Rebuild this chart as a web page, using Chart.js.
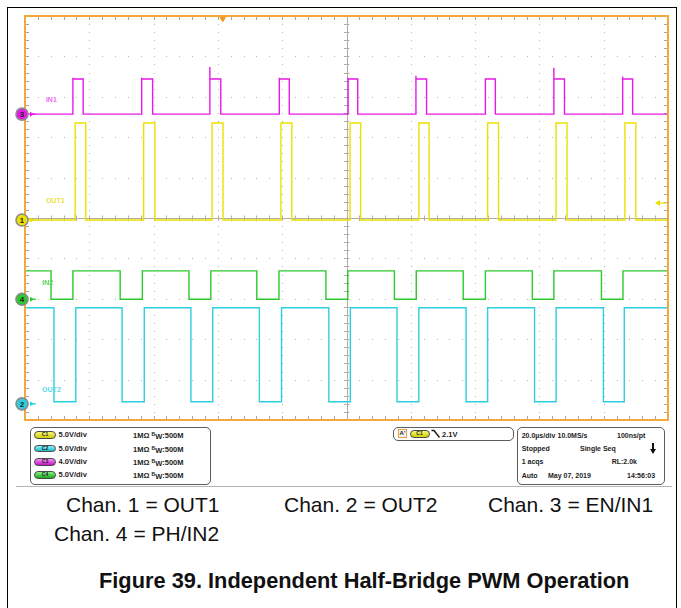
<!DOCTYPE html>
<html>
<head>
<meta charset="utf-8">
<script src="https://cdn.jsdelivr.net/npm/chart.js@4.4.1/dist/chart.umd.min.js"></script>
<style>
  html, body { margin: 0; padding: 0; background: #fff; }
  body { width: 681px; height: 608px; position: relative; overflow: hidden; font-family: "Liberation Sans", Arial, sans-serif; }
  #frame { position: absolute; left: 7px; top: 7px; width: 668px; height: 620px; border: 1px solid #000; border-bottom: none; }
  #scope { position: absolute; left: 0; top: 0; }
  .box { position: absolute; border: 1px solid #5c5c5c; border-radius: 5px; box-sizing: border-box; background: #fff; }
  .t { position: absolute; font-size: 7.5px; line-height: 7.5px; font-weight: bold; color: #1d1d1d; white-space: nowrap; }
  .s { font-size: 7px; }
  .pill { position: absolute; width: 22px; height: 7.5px; border: 1px solid #4a4a4a; border-radius: 4px; box-sizing: border-box;
          font-size: 5px; line-height: 5.5px; font-weight: bold; text-align: center; color: #202020; }
  .c1 { background: linear-gradient(#f6f67a, #cfcf00); }
  .c2 { background: linear-gradient(#8ef0f8, #1cb8c8); }
  .c3 { background: linear-gradient(#f690f6, #c414c4); }
  .c4 { background: linear-gradient(#8cf08c, #1aa81a); }
  .cap { position: absolute; font-size: 21px; line-height: 21px; color: #111; white-space: nowrap; }
  .title { font-weight: bold; font-size: 21.8px; line-height: 21.8px; }
  #sep { position: absolute; left: 16px; top: 486px; width: 656px; height: 1px; background: #b4b4b4; }
</style>
</head>
<body>
<div id="frame"></div>
<canvas id="scope" width="681" height="424"></canvas>

<!-- vertical settings -->
<div class="box" style="left:30px; top:427px; width:181px; height:58px;"></div>
<div class="pill c1" style="left:34px; top:431.3px;">C1</div>
<div class="pill c2" style="left:34px; top:444.6px;">C2</div>
<div class="pill c3" style="left:34px; top:458px;">C3</div>
<div class="pill c4" style="left:34px; top:471.3px;">C4</div>
<div class="t" style="left:58.5px; top:431.3px;">5.0V/div</div>
<div class="t" style="left:58.5px; top:444.6px;">5.0V/div</div>
<div class="t" style="left:58.5px; top:458px;">4.0V/div</div>
<div class="t" style="left:58.5px; top:471.3px;">5.0V/div</div>
<div class="t" style="left:133px; top:431.3px;">1MΩ <span style="font-size:5px; vertical-align:2px;">B</span><span style="vertical-align:-1px;">W</span>:500M</div>
<div class="t" style="left:133px; top:444.6px;">1MΩ <span style="font-size:5px; vertical-align:2px;">B</span><span style="vertical-align:-1px;">W</span>:500M</div>
<div class="t" style="left:133px; top:458px;">1MΩ <span style="font-size:5px; vertical-align:2px;">B</span><span style="vertical-align:-1px;">W</span>:500M</div>
<div class="t" style="left:133px; top:471.3px;">1MΩ <span style="font-size:5px; vertical-align:2px;">B</span><span style="vertical-align:-1px;">W</span>:500M</div>

<!-- trigger -->
<div class="box" style="left:393px; top:427px; width:121px; height:14px;"></div>
<div class="t" style="left:398px; top:429px; width:9px; height:9px; box-sizing:border-box; border:1px solid #e9a23c; font-size:6px; line-height:7px; text-align:center; background:#f4f4f4;">A'</div>
<div class="pill c1" style="left:409.5px; top:430.3px; width:20px;">C1</div>
<svg style="position:absolute; left:431px; top:429px;" width="10" height="10"><polyline points="0.5,1.5 3,1.5 8.5,8.5" fill="none" stroke="#111" stroke-width="1.3"/></svg>
<div class="t" style="left:442px; top:431.3px;">2.1V</div>

<!-- horizontal / acquisition -->
<div class="box" style="left:517px; top:427px; width:148px; height:58px;"></div>
<div class="t s" style="left:521.7px; top:431.6px;">20.0µs/div</div>
<div class="t s" style="left:557.5px; top:431.6px;">10.0MS/s</div>
<div class="t s" style="left:617px; top:431.6px;">100ns/pt</div>
<div class="t s" style="left:521.7px; top:444.9px;">Stopped</div>
<div class="t s" style="left:580px; top:444.9px;">Single Seq</div>
<svg style="position:absolute; left:649.5px; top:442.5px;" width="6" height="11"><path d="M2 0 H4 V6 H6 L3 11 L0 6 H2 Z" fill="#111"/></svg>
<div class="t s" style="left:521.7px; top:458.3px;">1 acqs</div>
<div class="t s" style="left:611.7px; top:458.3px;">RL:2.0k</div>
<div class="t s" style="left:521.7px; top:471.6px;">Auto</div>
<div class="t s" style="left:548px; top:471.6px;">May 07, 2019</div>
<div class="t s" style="left:627px; top:471.6px;">14:56:03</div>

<div id="sep"></div>

<div class="cap" style="left:66px; top:494px;">Chan. 1 = OUT1</div>
<div class="cap" style="left:284px; top:494px;">Chan. 2 = OUT2</div>
<div class="cap" style="left:488px; top:494px;">Chan. 3 = EN/IN1</div>
<div class="cap" style="left:54px; top:523px;">Chan. 4 = PH/IN2</div>
<div class="cap title" style="left:99px; top:570px;">Figure 39. Independent Half-Bridge PWM Operation</div>

<script>
// Time base: 20 µs/div over 10 divisions; vertical in screen divisions (0 = bottom).
const T_MIN = 0, T_MAX = 200;
const DIV_MIN = 0, DIV_MAX = 10;

// EN/IN1 (ch3): short high pulses, [low, high] levels, leading-edge peak per pulse
const in1Rise = [14.9, 36.3, 57.5, 79.1, 100.5, 121.6, 143.2, 164.5, 185.9];
const in1Fall = [18.1, 39.7, 60.9, 82.2, 103.5, 124.9, 146.3, 167.8, 189.0];
const in1Level = [7.57, 8.44];
const in1Peak = [8.47, 8.47, 8.74, 8.47, 8.47, 8.52, 8.44, 8.72, 8.50];

// OUT1 (ch1)
const out1Rise = [15.6, 36.9, 58.2, 79.6, 101.1, 122.5, 143.9, 165.2, 186.6];
const out1Fall = [18.9, 40.4, 61.6, 83.0, 104.4, 125.7, 147.3, 168.6, 190.0];
const out1Level = [4.95, 7.35];

// PH/IN2 (ch4): low pulses
const in2Fall = [8.1, 29.6, 51.0, 72.1, 93.6, 114.9, 136.3, 157.8, 179.3];
const in2Rise = [14.9, 36.5, 57.8, 79.0, 100.4, 121.7, 143.2, 164.5, 186.0];
const in2Level = [2.99, 3.69];

// OUT2 (ch2): low pulses
const out2Fall = [9.0, 30.2, 51.6, 72.9, 94.5, 115.7, 137.2, 158.5, 179.9];
const out2Rise = [15.8, 37.1, 58.4, 79.8, 101.2, 122.5, 143.9, 165.2, 186.4];
const out2Level = [0.45, 2.78];

// Channel ground markers on the left edge and trigger settings
const chanNumbers = ['3', '1', '4', '2'];
const chanGround = [7.57, 4.95, 2.99, 0.40];
const traceNames = ['IN1', 'OUT1', 'IN2', 'OUT2'];
const triggerTime = 61.5;
const triggerLevel = 5.37;

const colors = ['#e619e6', '#ebe100', '#2cc82c', '#2ccfe0'];
const labelColors = ['#ee66ee', '#e6dc40', '#55d055', '#55d8e8'];
const labelAt = [[6.5, 7.92], [6.5, 5.42], [5.4, 3.40], [5.4, 0.75]];

function highPulses(rise, fall, level, peak) {
  const [lo, hi] = level;
  const pts = [{ x: T_MIN, y: lo }];
  rise.forEach((r, i) => {
    pts.push({ x: r, y: lo }, { x: r, y: peak ? peak[i] : hi }, { x: r, y: hi },
             { x: fall[i], y: hi }, { x: fall[i], y: lo });
  });
  pts.push({ x: T_MAX, y: lo });
  return pts;
}

function lowPulses(fall, rise, level) {
  const [lo, hi] = level;
  const pts = [{ x: T_MIN, y: hi }];
  fall.forEach((f, i) => {
    pts.push({ x: f, y: hi }, { x: f, y: lo }, { x: rise[i], y: lo }, { x: rise[i], y: hi });
  });
  pts.push({ x: T_MAX, y: hi });
  return pts;
}

const graticule = {
  id: 'graticule',
  beforeDatasetsDraw(chart) {
    const { ctx, chartArea: a } = chart;
    const dx = (a.right - a.left) / 10, dy = (a.bottom - a.top) / 10;
    const cx = a.left + 5 * dx, cy = a.top + 5 * dy;
    ctx.save();

    // dotted division lines
    ctx.fillStyle = '#b2b2b2';
    for (let i = 1; i < 10; i++) {
      if (i === 5) continue;
      const x = Math.round(a.left + i * dx);
      for (let k = 1; k < 50; k++) ctx.fillRect(x, Math.round(a.top + k * dy / 5), 1, 1);
      const y = Math.round(a.top + i * dy);
      for (let k = 1; k < 50; k++) ctx.fillRect(Math.round(a.left + k * dx / 5), y, 1, 1);
    }

    // centre crosshair with minor ticks
    ctx.strokeStyle = '#b3aca0';
    ctx.lineWidth = 1;
    ctx.beginPath();
    ctx.moveTo(Math.round(cx) + 0.5, a.top); ctx.lineTo(Math.round(cx) + 0.5, a.bottom);
    ctx.moveTo(a.left, Math.round(cy) + 0.5); ctx.lineTo(a.right, Math.round(cy) + 0.5);
    for (let k = 1; k < 50; k++) {
      const y = Math.round(a.top + k * dy / 5) + 0.5;
      ctx.moveTo(cx - 2.5, y); ctx.lineTo(cx + 3, y);
      const x = Math.round(a.left + k * dx / 5) + 0.5;
      ctx.moveTo(x, cy - 2.5); ctx.lineTo(x, cy + 3);
    }
    ctx.stroke();

    // edge ticks
    ctx.strokeStyle = '#a6a6a6';
    ctx.beginPath();
    for (let k = 1; k < 50; k++) {
      const x = Math.round(a.left + k * dx / 5) + 0.5;
      ctx.moveTo(x, a.top); ctx.lineTo(x, a.top + 4);
      ctx.moveTo(x, a.bottom); ctx.lineTo(x, a.bottom - 4);
      const y = Math.round(a.top + k * dy / 5) + 0.5;
      ctx.moveTo(a.left, y); ctx.lineTo(a.left + 4, y);
      ctx.moveTo(a.right, y); ctx.lineTo(a.right - 4, y);
    }
    ctx.stroke();
    ctx.restore();
  },
  afterDatasetsDraw(chart) {
    const { ctx, chartArea: a, scales: { x: xs, y: ys } } = chart;
    ctx.save();

    // trace name labels
    ctx.font = 'bold 7px "Liberation Sans", Arial, sans-serif';
    ctx.textBaseline = 'middle';
    traceNames.forEach((name, i) => {
      ctx.fillStyle = labelColors[i];
      ctx.fillText(name, xs.getPixelForValue(labelAt[i][0]), ys.getPixelForValue(labelAt[i][1]));
    });

    // graticule frame
    ctx.strokeStyle = '#f2a83c';
    ctx.lineWidth = 2;
    ctx.strokeRect(a.left, a.top, a.right - a.left, a.bottom - a.top);

    // trigger position marker
    const tx = xs.getPixelForValue(triggerTime);
    ctx.fillStyle = '#f09a1c';
    ctx.beginPath();
    ctx.moveTo(tx - 3.5, a.top + 1); ctx.lineTo(tx + 3.5, a.top + 1); ctx.lineTo(tx, a.top + 6.5);
    ctx.closePath(); ctx.fill();

    // trigger level arrow (ch1)
    const ty = ys.getPixelForValue(triggerLevel);
    ctx.fillStyle = colors[1];
    ctx.strokeStyle = colors[1];
    ctx.lineWidth = 1.2;
    ctx.beginPath();
    ctx.moveTo(a.right - 13, ty); ctx.lineTo(a.right - 8, ty - 3); ctx.lineTo(a.right - 8, ty + 3);
    ctx.closePath(); ctx.fill();
    ctx.beginPath(); ctx.moveTo(a.right - 8, ty); ctx.lineTo(a.right - 2, ty); ctx.stroke();

    // channel ground markers
    const chanColor = { '1': colors[1], '2': colors[3], '3': colors[0], '4': colors[2] };
    chanNumbers.forEach((n, i) => {
      const y = ys.getPixelForValue(chanGround[i]);
      const c = chanColor[n];
      ctx.fillStyle = c;
      ctx.strokeStyle = c;
      ctx.lineWidth = 1.2;
      ctx.beginPath();
      ctx.moveTo(30, y); ctx.lineTo(36, y); ctx.stroke();
      ctx.beginPath();
      ctx.moveTo(30, y - 2.5); ctx.lineTo(34, y); ctx.lineTo(30, y + 2.5); ctx.closePath(); ctx.fill();

      ctx.beginPath();
      ctx.arc(22, y, 6, 0, Math.PI * 2);
      ctx.fill();
      ctx.strokeStyle = '#8c8c8c';
      ctx.lineWidth = 1.6;
      ctx.stroke();
      ctx.fillStyle = '#1a1a1a';
      ctx.font = 'bold 8px "Liberation Sans", Arial, sans-serif';
      ctx.textAlign = 'center';
      ctx.fillText(n, 22, y + 0.5);
      ctx.textAlign = 'left';
    });
    ctx.restore();
  }
};

const trace = (data, color) => ({
  data,
  borderColor: color,
  borderWidth: 1.4,
  pointRadius: 0,
  showLine: true,
  tension: 0,
  fill: false
});

new Chart(document.getElementById('scope'), {
  type: 'scatter',
  data: {
    datasets: [
      trace(highPulses(in1Rise, in1Fall, in1Level, in1Peak), colors[0]),
      trace(highPulses(out1Rise, out1Fall, out1Level), colors[1]),
      trace(lowPulses(in2Fall, in2Rise, in2Level), colors[2]),
      trace(lowPulses(out2Fall, out2Rise, out2Level), colors[3])
    ]
  },
  options: {
    responsive: false,
    animation: false,
    devicePixelRatio: 1,
    layout: { padding: { left: 25, top: 16, right: 13, bottom: 4 } },
    plugins: { legend: { display: false }, tooltip: { enabled: false } },
    scales: {
      x: { type: 'linear', min: T_MIN, max: T_MAX, display: false },
      y: { type: 'linear', min: DIV_MIN, max: DIV_MAX, display: false }
    }
  },
  plugins: [graticule]
});
</script>
</body>
</html>
